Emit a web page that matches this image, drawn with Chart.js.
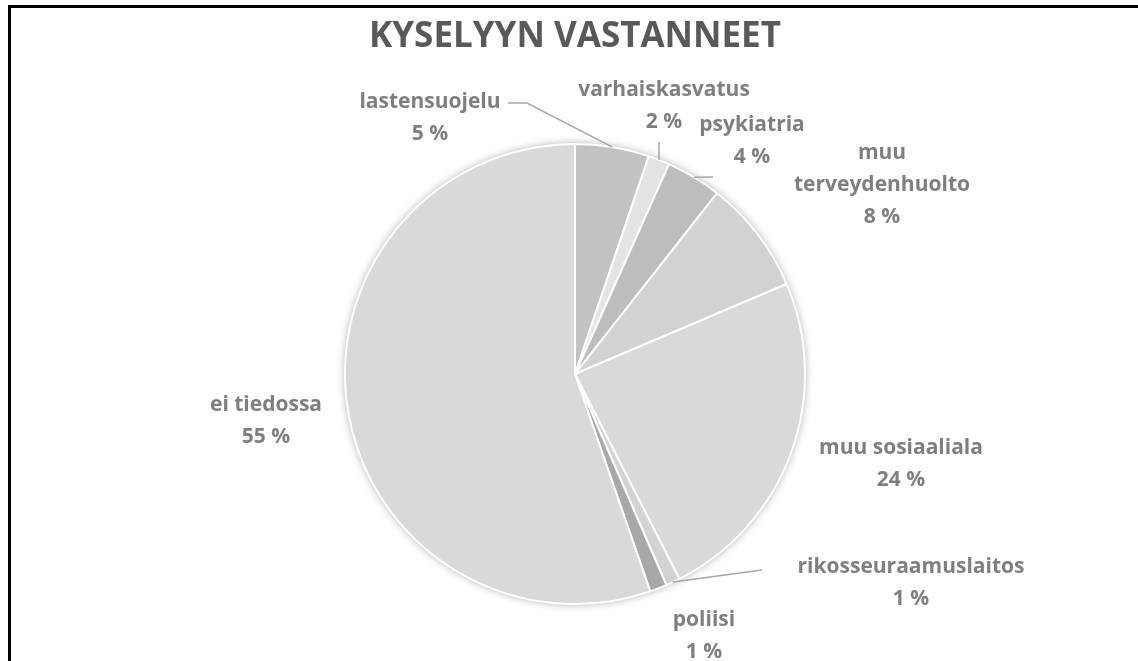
<!DOCTYPE html>
<html>
<head>
<meta charset="utf-8">
<script src="https://cdn.jsdelivr.net/npm/chart.js@4.4.0/dist/chart.umd.min.js"></script>
<style>
  html, body { margin: 0; padding: 0; background: #fff; }
  #wrap { position: relative; width: 1138px; height: 661px; overflow: hidden; }
  #frame {
    position: absolute; left: 8px; top: 5px; right: -10px; bottom: -10px;
    border-left: 3px solid #000; border-top: 3px solid #000;
    pointer-events: none;
  }
</style>
</head>
<body>
<div id="wrap">
  <canvas id="chart" width="1138" height="661"></canvas>
  <div id="frame"></div>
</div>
<script>
// --- DATA ---
const categories = [
  'lastensuojelu',
  'varhaiskasvatus',
  'psykiatria',
  'muu terveydenhuolto',
  'muu sosiaaliala',
  'rikosseuraamuslaitos',
  'poliisi',
  'ei tiedossa'
];
const shares = [5.2, 1.5, 3.9, 8.0, 23.9, 1.0, 1.2, 55.3];
const sliceColors = ['#c2c2c2', '#e4e4e4', '#bdbdbd', '#d2d2d2', '#d9d9d9', '#d3d3d3', '#a8a8a8', '#d9d9d9'];

// --- LABEL LAYOUT (offsets from pie centre) ---
const labelLayout = [
  { dx: -145, dy: -272, leader: [[-67, -271], [-48, -271]] },
  { dx: 89, dy: -284, leader: [[84, -232]] },
  { dx: 177, dy: -249, leader: [[138, -197]] },
  { dx: 307, dy: -221, wrap: true },
  { dx: 326, dy: 74 },
  { dx: 336, dy: 193, leader: [[187, 196]] },
  { dx: 129, dy: 246 },
  { dx: -309, dy: 31 }
];

const LINE_H = 32;
const labelFont = 'bold 21px "Open Sans", sans-serif';

// soft shadow behind the whole pie
const pieShadow = {
  id: 'pieShadow',
  beforeDatasetsDraw(chart) {
    const arc = chart.getDatasetMeta(0).data[0];
    if (!arc) return;
    const { x, y, outerRadius } = arc.getProps(['x', 'y', 'outerRadius'], true);
    const ctx = chart.ctx;
    ctx.save();
    ctx.shadowColor = 'rgba(0,0,0,0.35)';
    ctx.shadowBlur = 9;
    ctx.beginPath();
    ctx.arc(x, y, outerRadius, 0, Math.PI * 2);
    ctx.fillStyle = '#ffffff';
    ctx.fill();
    ctx.restore();
  }
};

// outside labels with leader lines
const pieLabels = {
  id: 'pieLabels',
  afterDatasetsDraw(chart) {
    const ctx = chart.ctx;
    const meta = chart.getDatasetMeta(0);
    meta.data.forEach((arc, i) => {
      const p = arc.getProps(['x', 'y', 'startAngle', 'endAngle', 'outerRadius'], true);
      const mid = (p.startAngle + p.endAngle) / 2;
      const ex = p.x + Math.cos(mid) * p.outerRadius;
      const ey = p.y + Math.sin(mid) * p.outerRadius;
      const lay = labelLayout[i];

      if (lay.leader) {
        ctx.save();
        ctx.strokeStyle = '#a6a6a6';
        ctx.lineWidth = 1.5;
        ctx.beginPath();
        lay.leader.forEach((pt, k) => {
          const lx = p.x + pt[0], ly = p.y + pt[1];
          if (k === 0) ctx.moveTo(lx, ly); else ctx.lineTo(lx, ly);
        });
        ctx.lineTo(ex, ey);
        ctx.stroke();
        ctx.restore();
      }

      let lines = [categories[i]];
      if (lay.wrap) {
        const cut = categories[i].indexOf(' ');
        lines = [categories[i].slice(0, cut), categories[i].slice(cut + 1)];
      }
      const pct = Math.round(shares[i]) + ' %';

      ctx.save();
      ctx.font = labelFont;
      ctx.fillStyle = '#7f7f7f';
      ctx.textAlign = 'center';
      ctx.textBaseline = 'middle';
      const cx = p.x + lay.dx;
      let cy = p.y + lay.dy;
      lines.forEach(t => {
        ctx.fillText(t, cx, cy);
        cy += LINE_H;
      });
      ctx.fillText(pct, cx + (lay.pdx || 0), cy);
      ctx.restore();
    });
  }
};

new Chart(document.getElementById('chart'), {
  type: 'pie',
  data: {
    labels: categories,
    datasets: [{
      data: shares,
      backgroundColor: sliceColors,
      borderColor: '#ffffff',
      borderWidth: 2
    }]
  },
  options: {
    responsive: false,
    animation: false,
    rotation: 0,
    layout: { padding: { top: 0, left: 344, right: 332, bottom: 56 } },
    plugins: {
      legend: { display: false },
      tooltip: { enabled: false },
      title: {
        display: true,
        text: 'KYSELYYN VASTANNEET',
        color: '#595959',
        font: { family: '"Open Sans", sans-serif', size: 35, weight: 'bold', lineHeight: 1.2 },
        padding: { top: 16, bottom: 85 }
      }
    }
  },
  plugins: [pieShadow, pieLabels]
});
</script>
</body>
</html>
